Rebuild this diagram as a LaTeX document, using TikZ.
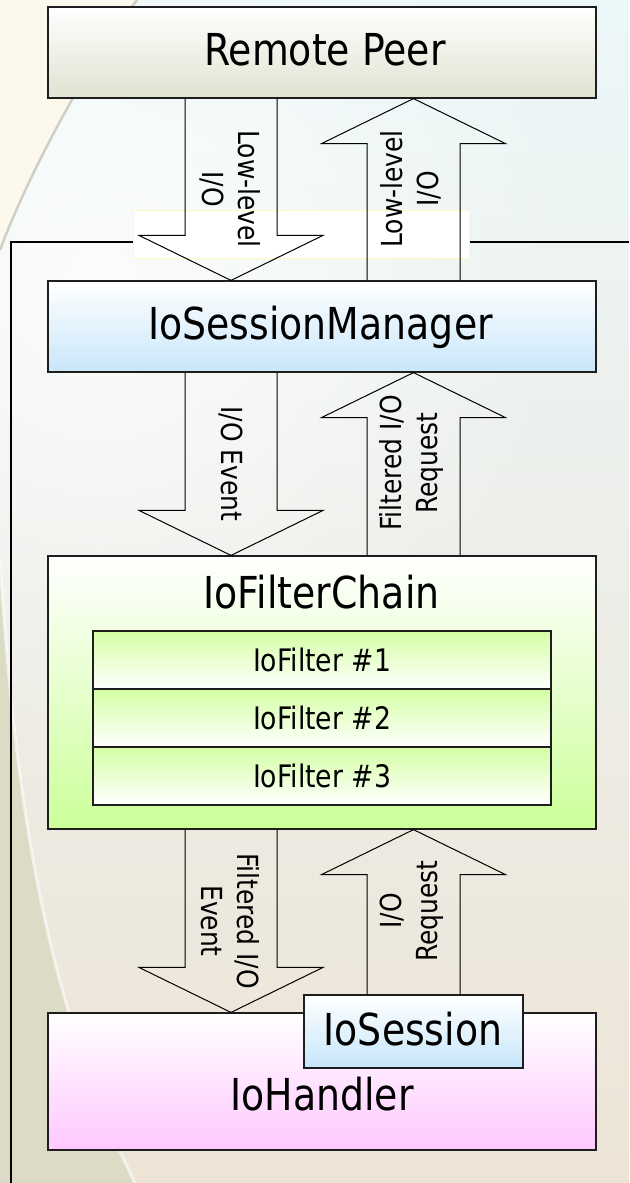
\documentclass[tikz,border=0pt]{standalone}
\usepackage{fontspec}
\setmainfont{DejaVu Sans}[FakeStretch=0.86]
\usetikzlibrary{calc,fadings}
\tikzfading[name=tlfade, inner color=transparent!0, outer color=transparent!100]
\definecolor{boxline}{HTML}{1E1E1E}
\definecolor{bgtop}{HTML}{ECF7F9}
\definecolor{bgmid}{HTML}{F3F5F0}
\definecolor{bgbot}{HTML}{EDE4D6}
\definecolor{cream}{HTML}{FCF9EC}
\definecolor{sage}{HTML}{DCDBC6}
\definecolor{swoosh}{HTML}{CFCFC6}
\definecolor{peerbot}{HTML}{DFE3D0}
\definecolor{mgrbot}{HTML}{C9E6FA}
\definecolor{chainbot}{HTML}{CCFF99}
\definecolor{filtertop}{HTML}{D4FFA4}
\definecolor{handlerbot}{HTML}{FFC8FF}
\definecolor{sessbot}{HTML}{C6E6FA}
\definecolor{ybox}{HTML}{FFFAC0}
\tikzset{
  box/.style={rectangle, draw=boxline, line width=1.2pt, inner sep=0pt},
  title/.style={font=\fontsize{44}{52}\selectfont, inner sep=0pt, anchor=base},
  filterbox/.style={box, minimum width=458pt, minimum height=58pt, top color=filtertop, bottom color=white, font=\fontsize{31}{36}\selectfont},
  lbl/.style={font=\fontsize{29}{36}\selectfont, align=center, inner sep=0pt},
  blkarrow/.style={draw=black, line width=1pt, line join=miter},
  frameline/.style={draw=black, line width=1.5pt}
}
\newcommand\blkdown[3]{%
  \draw[blkarrow] let \p1=(#2.south), \p2=(#3.north) in
    (#1pt-46pt,\y1) -- (#1pt-46pt,\y2+45pt) -- (#1pt-92pt,\y2+45pt) -- (#1pt,\y2)
    -- (#1pt+92pt,\y2+45pt) -- (#1pt+46pt,\y2+45pt) -- (#1pt+46pt,\y1);}
\newcommand\blkup[3]{%
  \draw[blkarrow] let \p1=(#2.north), \p2=(#3.south) in
    (#1pt-46.5pt,\y1) -- (#1pt-46.5pt,\y2-45pt) -- (#1pt-92pt,\y2-45pt) -- (#1pt,\y2)
    -- (#1pt+92pt,\y2-45pt) -- (#1pt+46.5pt,\y2-45pt) -- (#1pt+46.5pt,\y1);}
\begin{document}
\begin{tikzpicture}[x=1pt,y=-1pt]
\useasboundingbox (0,0) rectangle (629,1183);
% background
\begin{scope}
\clip (0,0) rectangle (629,1183);
\shade[top color=bgtop, middle color=bgmid, bottom color=bgbot] (0,0) rectangle (629,1183);
\fill[white, path fading=tlfade, opacity=0.8] (100,280) circle (480);
\fill[cream] (0,0) -- (137,0) .. controls (90,60) and (30,170) .. (0,250) -- cycle;
\draw[swoosh, line width=2.5pt] (137,0) .. controls (90,60) and (30,170) .. (0,250);
\fill[sage] (0,560) .. controls (15,800) and (45,1000) .. (135,1183) -- (0,1183) -- cycle;
\draw[white, opacity=0.6, line width=3pt] (0,560) .. controls (15,800) and (45,1000) .. (135,1183);
\end{scope}
% frame
\draw[frameline] (11,1183) -- (11,242) -- (629,242);
\filldraw[fill=white, draw=ybox, line width=1pt] (133,210) rectangle (469,258);
% boxes
\node[box, minimum width=548pt, minimum height=91pt, top color=white, bottom color=peerbot] (peer) at (322,52.5) {};
\node[box, minimum width=548pt, minimum height=91pt, top color=white, bottom color=mgrbot] (mgr) at (322,326.5) {};
\node[box, minimum width=548pt, minimum height=273pt, top color=white, bottom color=chainbot] (chain) at (322,692.5) {};
\node[filterbox] (f1) at (322,660) {IoFilter \#1};
\node[filterbox] (f2) at (322,718) {IoFilter \#2};
\node[filterbox] (f3) at (322,776) {IoFilter \#3};
\node[box, minimum width=548pt, minimum height=137pt, top color=white, bottom color=handlerbot] (handler) at (322,1081.5) {};
\node[box, minimum width=219pt, minimum height=73pt, top color=white, bottom color=sessbot] (sess) at (413.5,1031.5) {};
% arrows
\blkdown{231}{peer}{mgr}
\blkup{413.5}{mgr}{peer}
\blkdown{231}{mgr}{chain}
\blkup{413.5}{chain}{mgr}
\blkdown{231}{chain}{handler}
\blkup{413.5}{sess}{chain}
% titles
\node[title] (peertxt) at (325,65) {Remote Peer};
\node[title] (mgrtxt) at (320.5,339) {IoSessionManager};
\node[title] (chaintxt) at (321.5,608) {IoFilterChain};
\node[title] (handlertxt) at (322,1110) {IoHandler};
\node[title] (sesstxt) at (413,1045) {IoSession};
% arrow labels
\node[lbl, rotate=-90] (l1) at (230,189) {Low-level\\I/O};
\node[lbl, rotate=90] (l2) at (411,189) {Low-level\\I/O};
\node[lbl, rotate=-90] (l3) at (231,464) {I/O Event};
\node[lbl, rotate=90] (l4) at (411,463) {Filtered I/O\\Request};
\node[lbl, rotate=-90] (l5) at (230,921) {Filtered I/O\\Event};
\node[lbl, rotate=90] (l6) at (411.5,911) {I/O\\Request};
\end{tikzpicture}
\end{document}
